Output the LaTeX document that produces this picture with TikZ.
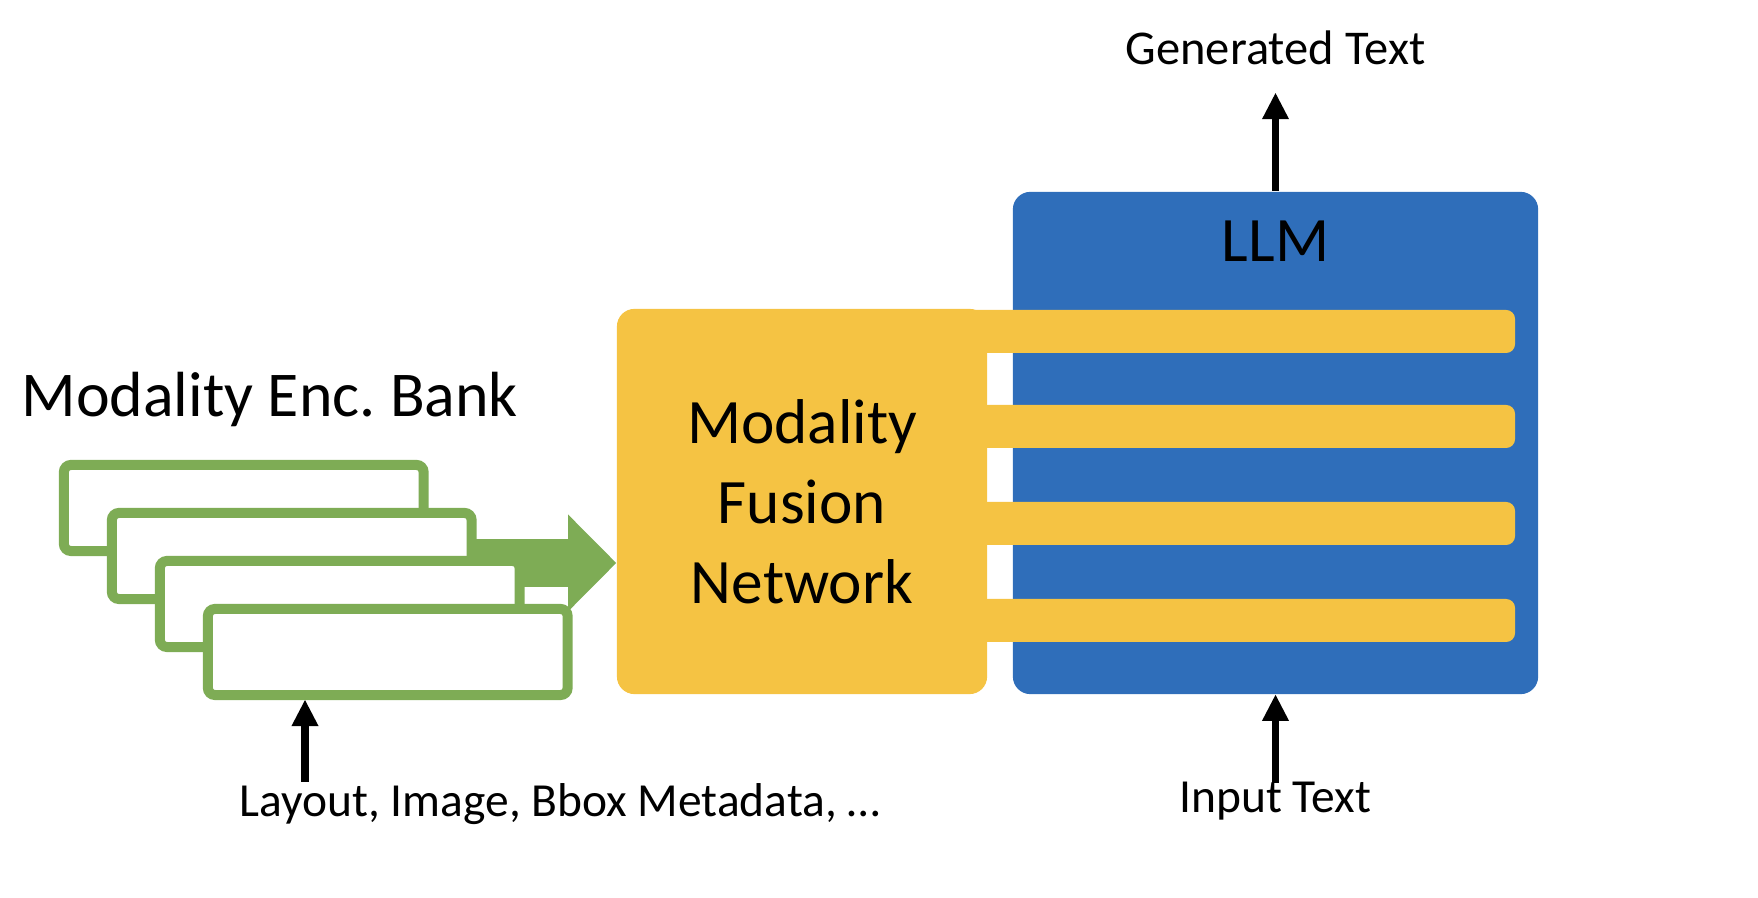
\documentclass[tikz,border=0pt]{standalone}
\usepackage{fontspec}
\setmainfont{Carlito}
\usetikzlibrary{arrows.meta}
\definecolor{enccol}{HTML}{7EAC55}
\definecolor{fusioncol}{HTML}{F5C343}
\definecolor{llmcol}{HTML}{2F6EBA}
\tikzset{
  encbox/.style={draw=enccol, line width=2.85pt, fill=white, rounded corners=2pt,
    minimum width=3.595cm, minimum height=0.86cm, inner sep=0pt},
  fusionbox/.style={fill=fusioncol, rounded corners=5pt, minimum width=3.7cm,
    minimum height=3.85cm, align=center, font=\fontsize{18}{22.8}\selectfont},
  llmbox/.style={fill=llmcol, rounded corners=5pt, minimum width=5.25cm, minimum height=5.02cm},
  fatarrow/.style={draw=enccol, line width=13.9pt,
    -{Triangle[length=13.7pt, width=27.6pt, line width=0pt]}},
  blkarrow/.style={line width=2pt, -{Triangle[length=7.4pt, width=7.7pt, line width=0pt]}},
  bigtxt/.style={font=\fontsize{18.15}{22}\selectfont},
  smalltxt/.style={font=\fontsize{13.5}{16}\selectfont}
}
\begin{document}
\begin{tikzpicture}[x=0.01cm, y=-0.01cm]
    \useasboundingbox (0,0) rectangle (1758,898);

    % LLM block and fusion network with its bars
    \node[llmbox] (llm) at (1275.5,443) {};
    \node[anchor=base, font=\fontsize{18}{22}\selectfont] (llmlbl) at (1275.5,262) {LLM};
    \node[fusionbox] (fusion) at (802,501.5) {Modality\\Fusion\\Network};
    \foreach \y in {310,405,502,599} {
        \fill[fusioncol, rounded corners=2.5pt] (960,\y) rectangle (1515,\y+43);
    }

    % encoder bank (arrow first, boxes on top)
    \coordinate (bankout) at (440,563);
    \draw[fatarrow] (bankout) -- (bankout -| fusion.west);
    \foreach \x in {1,2,3,4} {
        \node[encbox] (enc\x) at ({243.75+48*(\x-1)},{508+48*(\x-1)}) {};
    }
    \node[bigtxt, anchor=base west, inner sep=0pt] (banklbl) at (21,417) {Modality Enc.\ Bank};

    % inputs and output
    \node[anchor=base, inner sep=7.7pt, font=\fontsize{13.8}{17}\selectfont] (genlbl) at (1275.5,65) {Generated Text};
    \draw[blkarrow] (llm.north) -- (genlbl.south);
    \node[smalltxt, anchor=base] (laylbl) at (560,817) {Layout, Image, Bbox Metadata, \dots};
    \coordinate (layin) at (305,782);
    \draw[blkarrow] (layin) -- (layin |- enc4.south);
    \node[smalltxt, anchor=base] (inlbl) at (1275.5,812) {Input Text};
    \coordinate (txtin) at (1275.5,783);
    \draw[blkarrow] (txtin) -- (txtin |- llm.south);
\end{tikzpicture}
\end{document}
